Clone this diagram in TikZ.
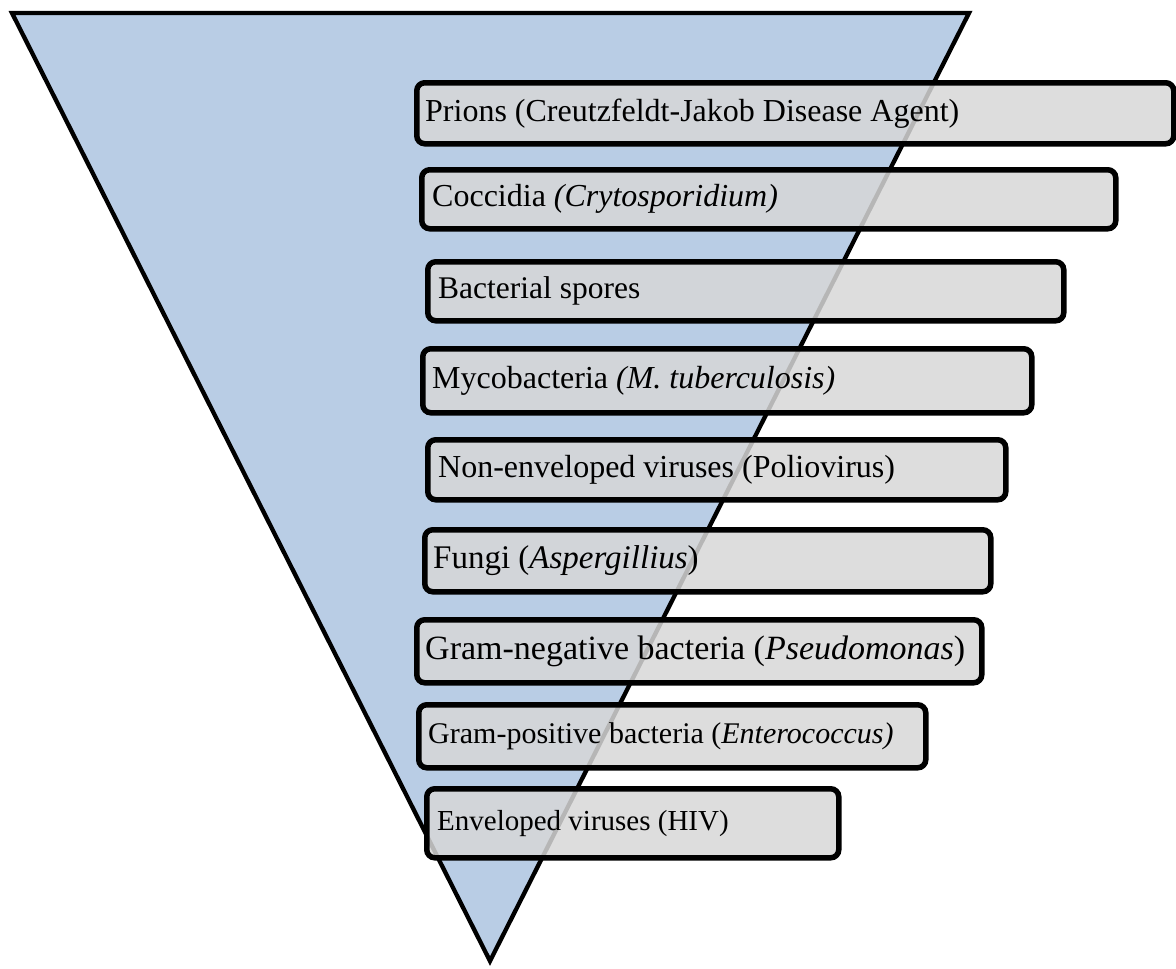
\documentclass[tikz,border=0pt]{standalone}
\usepackage{fontspec}
\setmainfont{Liberation Serif}
\usetikzlibrary{positioning}

\definecolor{funnelblue}{RGB}{185,205,229}
\definecolor{boxgray}{RGB}{215,215,215}

\begin{document}
\begin{tikzpicture}[x=1pt,y=-1pt,
    box/.style={draw=black,line width=5.5pt,rounded corners=8pt,fill=boxgray,fill opacity=0.85,anchor=north west,inner sep=0pt},
    lbl/.style={inner sep=0pt,font=\fontsize{#1}{#1}\selectfont},
    lbl/.default=32]
      \useasboundingbox (0,0) rectangle (1176,969);

      % the funnel
      \coordinate (tl) at (12,13);
      \coordinate (tr) at (969,13);
      \coordinate (tip) at (490,961);
      \draw[line width=4.3pt,fill=funnelblue] (tl) -- (tr) -- (tip) -- cycle;

      % the bars
      \node[box,minimum width=757,minimum height=61] (prions) at (414,80) {};
      \node[box,minimum width=694,minimum height=59] (coccidia) at (419,167) {};
      \node[box,minimum width=636,minimum height=59] (spores) at (425,259) {};
      \node[box,minimum width=609,minimum height=64] (myco) at (420,346) {};
      \node[box,minimum width=578,minimum height=60] (nonenv) at (425,437) {};
      \node[box,minimum width=566,minimum height=62] (fungi) at (422,527) {};
      \node[box,minimum width=565,minimum height=63] (gramneg) at (414,617) {};
      \node[box,minimum width=507,minimum height=63] (grampos) at (416,702) {};
      \node[box,minimum width=412,minimum height=69] (env) at (424,786) {};

      % the labels
      \node[lbl,right=11pt of prions.west] (prionsT) {Prions (Creutzfeldt-Jakob Disease Agent)};
      \node[lbl,right=13pt of coccidia.west] (coccidiaT) {Coccidia \textit{(Crytosporidium)}};
      \node[lbl=31.5,right=13pt of spores.west] (sporesT) {Bacterial spores};
      \node[lbl,right=12pt of myco.west] (mycoT) {Mycobacteria \textit{(M. tuberculosis)}};
      \node[lbl,right=13pt of nonenv.west] (nonenvT) {Non-enveloped viruses (Poliovirus)};
      \node[lbl=33,right=11pt of fungi.west] (fungiT) {Fungi (\textit{Aspergillius})};
      \node[lbl=34,right=11pt of gramneg.west] (gramnegT) {Gram-negative bacteria (\textit{Pseudomonas})};
      \node[lbl=30,right=12pt of grampos.west] (gramposT) {Gram-positive bacteria (\textit{Enterococcus)}};
      \node[lbl=29,right=13pt of env.west] (envT) {Enveloped viruses (HIV)};

\end{tikzpicture}
\end{document}
